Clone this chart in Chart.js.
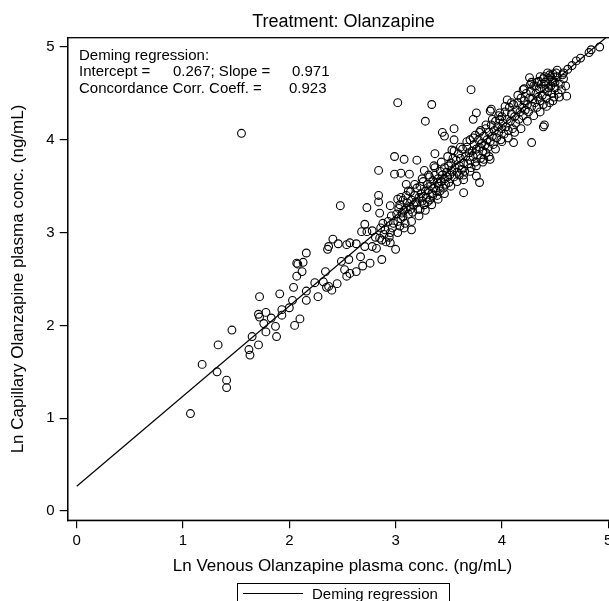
<!DOCTYPE html>
<html>
<head>
<meta charset="utf-8">
<script src="https://cdn.jsdelivr.net/npm/chart.js@4"></script>
<style>
  html, body { margin: 0; padding: 0; background: #fff; overflow: hidden; }
  #wrap { width: 609px; height: 601px; overflow: hidden; }
</style>
</head>
<body>
<div id="wrap"><canvas id="chart" width="625" height="601"></canvas></div>
<script>
/* ── Data ─────────────────────────────────── */
// Ln venous (x) and ln capillary (y), 10 per row
const venous = [
  1.07,1.18,1.32,1.41,1.41,1.33,1.46,1.55,1.62,1.63,
  1.65,1.71,1.72,1.71,1.72,1.76,1.78,1.78,1.83,1.87,
  1.88,1.91,1.93,1.93,2.00,2.04,2.03,2.05,2.07,2.08,
  2.10,2.13,2.12,2.07,2.16,2.16,2.16,2.24,2.27,2.32,
  2.34,2.35,2.37,2.40,2.45,2.37,2.36,2.41,2.46,2.48,
  2.49,2.52,2.54,2.57,2.54,2.57,2.56,2.63,2.67,2.63,
  2.69,2.76,2.73,2.71,2.68,2.78,2.71,2.78,2.82,2.87,
  2.87,2.85,2.95,3.00,2.90,2.95,2.98,2.73,2.84,2.84,
  2.85,2.95,2.84,2.99,2.99,3.02,2.81,2.86,2.89,2.93,
  2.97,2.91,2.96,2.88,2.94,3.02,3.04,3.07,3.05,3.08,
  3.10,3.13,3.15,3.20,3.27,3.28,3.34,3.36,3.37,3.44,
  3.46,3.01,3.02,3.03,3.04,3.05,3.06,3.07,3.08,3.09,
  3.10,3.10,3.11,3.12,3.13,3.14,3.14,3.15,3.16,3.17,
  3.18,3.19,3.20,3.20,3.21,3.22,3.23,3.23,3.24,3.25,
  3.26,3.26,3.27,3.28,3.29,3.30,3.30,3.31,3.32,3.32,
  3.33,3.34,3.35,3.35,3.36,3.37,3.38,3.39,3.39,3.40,
  3.41,3.42,3.42,3.43,3.44,3.45,3.46,3.46,3.47,3.48,
  3.49,3.50,3.50,3.53,3.55,3.55,3.64,3.64,3.71,3.73,
  3.76,3.76,3.79,3.83,3.89,3.89,3.90,3.98,3.51,3.52,
  3.53,3.54,3.55,3.56,3.57,3.58,3.59,3.60,3.60,3.61,
  3.62,3.63,3.64,3.65,3.66,3.67,3.68,3.69,3.70,3.70,
  3.71,3.72,3.73,3.74,3.75,3.75,3.76,3.77,3.78,3.79,
  3.80,3.80,3.81,3.82,3.83,3.84,3.85,3.85,3.86,3.87,
  3.88,3.89,3.90,3.91,3.92,3.93,3.94,3.95,3.96,3.97,
  3.98,3.99,4.00,4.00,4.05,4.11,4.20,4.26,4.28,4.36,
  4.39,4.48,4.61,4.01,4.02,4.03,4.04,4.05,4.06,4.07,
  4.08,4.09,4.10,4.11,4.12,4.13,4.14,4.15,4.16,4.17,
  4.18,4.19,4.20,4.21,4.22,4.23,4.24,4.25,4.26,4.27,
  4.28,4.29,4.30,4.31,4.32,4.33,4.34,4.35,4.36,4.37,
  4.38,4.39,4.40,4.41,4.42,4.43,4.44,4.45,4.46,4.47,
  4.48,4.49,4.50,4.52,4.53,4.55,4.56,4.58,4.60,4.62,
  4.70,4.82,4.84,4.92,4.43,4.52,4.58,4.66,4.74,4.40,
  3.02,3.05,3.08,3.12,3.15,3.18,3.22,3.25,3.28,3.31,
  3.34,3.37,3.40,3.43,3.46,3.49,3.52,3.55,3.58,3.61,
  3.64,3.67,3.70,3.73,3.76,3.79,3.82,3.85,3.88,3.91,
  3.94,3.97,4.00,4.03,4.06,4.09,4.12,4.15,4.18,4.21,
  4.24,4.27,4.30,4.33,4.36,4.39,4.42,4.45,4.48,4.51,
  4.54,4.57,4.35,4.40,4.44,4.47,4.50,4.32,4.28,4.46,
];
const capillary = [
  1.05,1.58,1.50,1.41,1.33,1.79,1.95,4.07,1.74,1.68,
  1.88,1.79,2.31,2.12,2.09,2.02,1.93,2.14,2.08,1.99,
  1.88,2.34,2.17,2.11,2.19,2.41,2.27,2.00,2.53,2.66,
  2.07,2.68,2.58,2.67,2.78,2.37,2.27,2.46,2.31,2.47,
  2.58,2.41,2.42,2.38,2.45,2.85,2.82,2.93,2.88,3.29,
  2.69,2.60,2.53,2.56,2.87,2.89,2.71,2.88,2.74,2.58,
  2.64,2.67,3.01,3.09,3.01,3.02,2.85,2.85,2.83,2.71,
  2.92,2.94,2.89,2.82,3.03,3.00,3.10,3.27,3.40,3.33,
  3.21,3.29,3.67,3.82,3.63,4.40,2.95,3.05,2.98,3.12,
  3.05,2.90,3.18,3.10,2.95,3.36,3.07,3.17,3.64,3.79,
  3.52,3.63,3.03,3.78,3.67,4.20,4.38,3.72,3.85,4.08,
  4.04,3.20,3.12,3.26,3.30,3.15,3.21,3.35,3.24,3.10,
  3.26,3.40,3.32,3.20,3.28,3.25,3.44,3.35,3.22,3.30,
  3.40,3.33,3.32,3.48,3.25,3.38,3.25,3.50,3.42,3.34,
  3.39,3.55,3.30,3.45,3.38,3.52,3.33,3.46,3.35,3.60,
  3.50,3.42,3.56,3.40,3.48,3.62,3.45,3.54,3.40,3.58,
  3.50,3.66,3.45,3.55,3.62,3.48,3.70,3.58,3.52,3.65,
  3.60,3.72,3.54,3.89,4.12,4.00,3.43,3.57,4.54,4.22,
  4.29,3.61,3.54,3.79,3.79,4.31,4.33,4.29,3.62,3.75,
  3.66,3.80,3.60,3.70,3.78,3.65,3.85,3.72,3.62,3.80,
  3.68,3.90,3.75,3.66,3.82,3.92,3.74,3.86,3.78,4.00,
  3.70,3.88,3.82,3.95,3.76,4.05,3.90,3.84,4.00,3.92,
  3.80,4.10,3.96,3.88,4.04,3.94,4.12,3.86,4.00,3.92,
  4.08,3.98,4.16,4.04,3.95,4.10,4.20,4.02,4.14,4.08,
  4.22,4.00,4.12,4.25,4.43,3.97,4.54,4.67,3.97,4.68,
  4.14,4.71,4.47,4.18,4.06,4.30,4.14,4.22,4.10,4.35,
  4.20,4.28,4.12,4.38,4.25,4.18,4.32,4.40,4.22,4.30,
  4.45,4.35,4.26,4.42,4.32,4.50,4.38,4.30,4.45,4.52,
  4.36,4.44,4.58,4.40,4.50,4.35,4.46,4.55,4.42,4.60,
  4.48,4.38,4.55,4.62,4.45,4.52,4.66,4.40,4.58,4.50,
  4.62,4.46,4.56,4.68,4.50,4.60,4.54,4.66,4.58,4.76,
  4.85,4.94,4.97,5.00,4.72,4.75,4.72,4.80,4.88,4.16,
  3.00,3.38,3.05,3.45,3.12,3.52,3.18,3.58,3.24,3.62,
  3.30,3.70,3.36,3.76,3.42,3.82,3.50,3.88,3.55,3.92,
  3.62,3.98,3.66,4.02,3.72,4.08,3.76,4.16,3.82,4.22,
  3.90,4.26,3.98,4.36,4.02,4.40,4.08,4.48,4.12,4.55,
  4.20,4.60,4.26,4.62,4.30,4.66,4.36,4.70,4.42,4.72,
  4.46,4.70,4.63,4.68,4.56,4.64,4.62,4.58,4.62,4.68,
];

// Deming regression line (intercept 0.267, slope 0.971), end points
const demingX = [0, 5.1];
const demingY = [0.267, 5.219];

const xTicks = [0, 1, 2, 3, 4, 5];
const yTicks = [0, 1, 2, 3, 4, 5];

const statLines = [
  ['Deming regression:'],
  ['Intercept =', '0.267; Slope =', '0.971'],
  ['Concordance Corr. Coeff. =', '0.923'],
];

/* ── Chart ────────────────────────────────── */
const FONT = "'Liberation Sans', Arial, Helvetica, sans-serif";
Chart.defaults.font.family = FONT;
Chart.defaults.color = '#000';

// frame, title, stats text and boxed legend
const decor = {
  id: 'decor',
  afterDraw(chart) {
    const { ctx, chartArea: a } = chart;
    ctx.save();
    ctx.strokeStyle = '#000';
    ctx.lineWidth = 1.3;
    ctx.strokeRect(a.left, a.top, a.right - a.left, a.bottom - a.top);

    ctx.fillStyle = '#000';
    ctx.textBaseline = 'alphabetic';
    ctx.textAlign = 'center';
    ctx.font = `18px ${FONT}`;
    ctx.fillText('Treatment: Olanzapine', (a.left + a.right) / 2 + 1, 26.5);

    ctx.textAlign = 'left';
    ctx.font = `15px ${FONT}`;
    const cols = [[79], [79, 173, 292], [79, 289]];
    const bases = [60, 76.3, 92.6];
    statLines.forEach((parts, i) => {
      parts.forEach((t, j) => ctx.fillText(t, cols[i][j], bases[i]));
    });

    // legend box
    ctx.lineWidth = 1;
    ctx.strokeRect(237.5, 583.5, 212, 24);
    ctx.lineWidth = 1;
    ctx.beginPath();
    ctx.moveTo(243, 593.5);
    ctx.lineTo(303, 593.5);
    ctx.stroke();
    ctx.fillText('Deming regression', 312, 598.5);
    ctx.restore();
  },
};

const axisCommon = {
  type: 'linear',
  grid: { drawOnChartArea: false, drawTicks: true, tickLength: 8, color: '#000', lineWidth: 1.2 },
  border: { display: true, color: '#000', width: 1.3 },
};

new Chart(document.getElementById('chart'), {
  data: {
    datasets: [
      {
        type: 'scatter',
        data: venous.map((v, i) => ({ x: v, y: capillary[i] })),
        pointStyle: 'circle',
        pointRadius: 3.9,
        borderWidth: 1.1,
        borderColor: '#000',
        backgroundColor: 'rgba(0,0,0,0)',
      },
      {
        type: 'line',
        data: demingX.map((v, i) => ({ x: v, y: demingY[i] })),
        borderColor: '#000',
        borderWidth: 1.2,
        pointRadius: 0,
        fill: false,
      },
    ],
  },
  options: {
    responsive: false,
    animation: false,
    layout: { padding: { left: 0, top: 37.7, right: 7.8, bottom: 20.7 } },
    plugins: {
      legend: { display: false },
      tooltip: { enabled: false },
      title: { display: false },
    },
    scales: {
      x: {
        ...axisCommon,
        min: -0.085, max: 5.085,
        afterBuildTicks: s => { s.ticks = xTicks.map(v => ({ value: v })); },
        afterFit: s => { s.height = 60; },
        ticks: { padding: 4, color: '#000', font: { size: 15 } },
        title: {
          display: true,
          text: 'Ln Venous Olanzapine plasma conc. (ng/mL)',
          color: '#000',
          font: { size: 17 },
          padding: { top: 0, bottom: 4 },
        },
      },
      y: {
        ...axisCommon,
        min: -0.1, max: 5.1,
        afterBuildTicks: s => { s.ticks = yTicks.map(v => ({ value: v })); },
        afterFit: s => { s.width = 67.7; },
        ticks: { padding: 5, color: '#000', font: { size: 15 } },
        title: {
          display: true,
          text: 'Ln Capillary Olanzapine plasma conc. (ng/mL)',
          color: '#000',
          font: { size: 17 },
          padding: { top: 8, bottom: 0 },
        },
      },
    },
  },
  plugins: [decor],
});
</script>
</body>
</html>
